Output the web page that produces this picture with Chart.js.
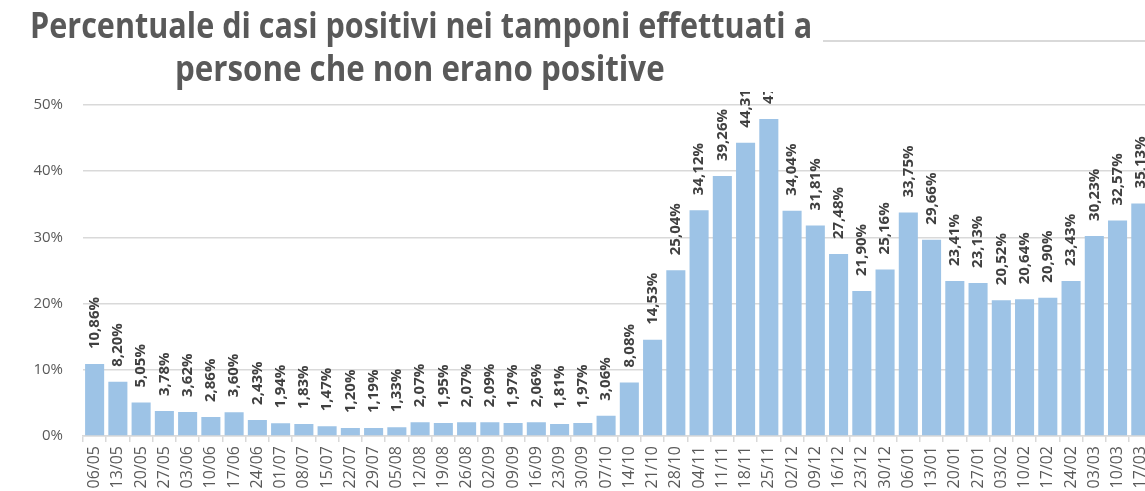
<!DOCTYPE html>
<html>
<head>
<meta charset="utf-8">
<script src="https://cdn.jsdelivr.net/npm/chart.js@4/dist/chart.umd.min.js"></script>
<style>
  html, body { margin: 0; padding: 0; background: #fff; overflow: hidden; }
  #wrap { position: relative; width: 1145px; height: 491px; overflow: hidden; }
  #js-chart { position: absolute; left: 0; top: 0; }
  .title { position: absolute; white-space: nowrap; font: bold 36px "Open Sans", sans-serif; color: #595959; transform-origin: 0 0; line-height: 1; }
  #rule { position: absolute; left: 823px; top: 40px; width: 340px; height: 2px; background: #d9d9d9; }
</style>
</head>
<body>
<div id="wrap">
  <canvas id="js-chart" width="1164" height="491"></canvas>
  <div class="title" id="t1" data-left="30" data-top="7" data-w="782">Percentuale di casi positivi nei tamponi effettuati a</div>
  <div class="title" id="t2" data-left="175" data-top="50" data-w="490">persone che non erano positive</div>
  <div id="rule"></div>
</div>
<script>
// weekly dates
var labels = ['06/05','13/05','20/05','27/05','03/06','10/06','17/06','24/06','01/07','08/07',
  '15/07','22/07','29/07','05/08','12/08','19/08','26/08','02/09','09/09','16/09',
  '23/09','30/09','07/10','14/10','21/10','28/10','04/11','11/11','18/11','25/11',
  '02/12','09/12','16/12','23/12','30/12','06/01','13/01','20/01','27/01','03/02',
  '10/02','17/02','24/02','03/03','10/03','17/03'];

// % positives
var values = [10.86, 8.20, 5.05, 3.78, 3.62, 2.86, 3.60, 2.43, 1.94, 1.83,
  1.47, 1.20, 1.19, 1.33, 2.07, 1.95, 2.07, 2.09, 1.97, 2.06,
  1.81, 1.97, 3.06, 8.08, 14.53, 25.04, 34.12, 39.26, 44.31, 47.90,
  34.04, 31.81, 27.48, 21.90, 25.16, 33.75, 29.66, 23.41, 23.13, 20.52,
  20.64, 20.90, 23.43, 30.23, 32.57, 35.13];

var yTicks = [0, 10, 20, 30, 40, 50];

function fmt(v) {
  return v.toFixed(2).replace('.', ',') + '%';
}

// fit title lines to the widths seen in the picture
document.querySelectorAll('.title').forEach(function(el){
  el.style.left = el.dataset.left + 'px';
  el.style.top = el.dataset.top + 'px';
  var sx = el.dataset.w / el.scrollWidth;
  el.style.transform = 'scale(' + sx + ',1)';
});

// value labels over the bars, turned 90 degrees
var barLabels = {
  id: 'barLabels',
  afterDatasetsDraw: function(chart) {
    var ctx = chart.ctx;
    var meta = chart.getDatasetMeta(0);
    ctx.save();
    ctx.beginPath();
    ctx.rect(0, 92, chart.width, chart.height);
    ctx.clip();
    ctx.font = 'bold 15px "Open Sans"';
    ctx.fillStyle = '#404040';
    ctx.textAlign = 'left';
    ctx.textBaseline = 'middle';
    meta.data.forEach(function(bar, i){
      ctx.save();
      ctx.translate(bar.x, bar.y - 15);
      ctx.rotate(-Math.PI / 2);
      ctx.fillText(fmt(values[i]), 0, 0);
      ctx.restore();
    });
    ctx.restore();
  }
};

var ctx = document.getElementById('js-chart');
var myChart = new Chart(ctx, {
  type: 'bar',
  data: {
    labels: labels,
    datasets: [{
      data: values,
      backgroundColor: '#9dc3e6',
      borderWidth: 0,
      barPercentage: 0.82,
      categoryPercentage: 1
    }]
  },
  options: {
    responsive: false,
    animation: false,
    layout: { padding: { top: 105, left: 0, right: 0, bottom: 0 } },
    plugins: {
      legend: { display: false },
      tooltip: { enabled: false }
    },
    scales: {
      x: {
        afterFit: function(s){ s.height = 55; },
        grid: { drawOnChartArea: false, drawTicks: true, tickLength: 6, color: '#d9d9d9', lineWidth: 1.5 },
        border: { color: '#d9d9d9', width: 1.5 },
        ticks: {
          autoSkip: false, maxRotation: 90, minRotation: 90, padding: 4,
          color: '#595959', font: { family: 'Open Sans', size: 16 }
        }
      },
      y: {
        min: 0, max: 50,
        afterFit: function(s){ s.width = 83; },
        afterBuildTicks: function(s){ s.ticks = yTicks.map(function(v){ return { value: v }; }); },
        grid: { drawTicks: false, color: '#d9d9d9', lineWidth: 1.5 },
        border: { display: false },
        ticks: {
          padding: 20,
          color: '#595959', font: { family: 'Open Sans', size: 15 },
          callback: function(v){ return v + '%'; }
        }
      }
    }
  },
  plugins: [barLabels]
});
</script>
</body>
</html>
